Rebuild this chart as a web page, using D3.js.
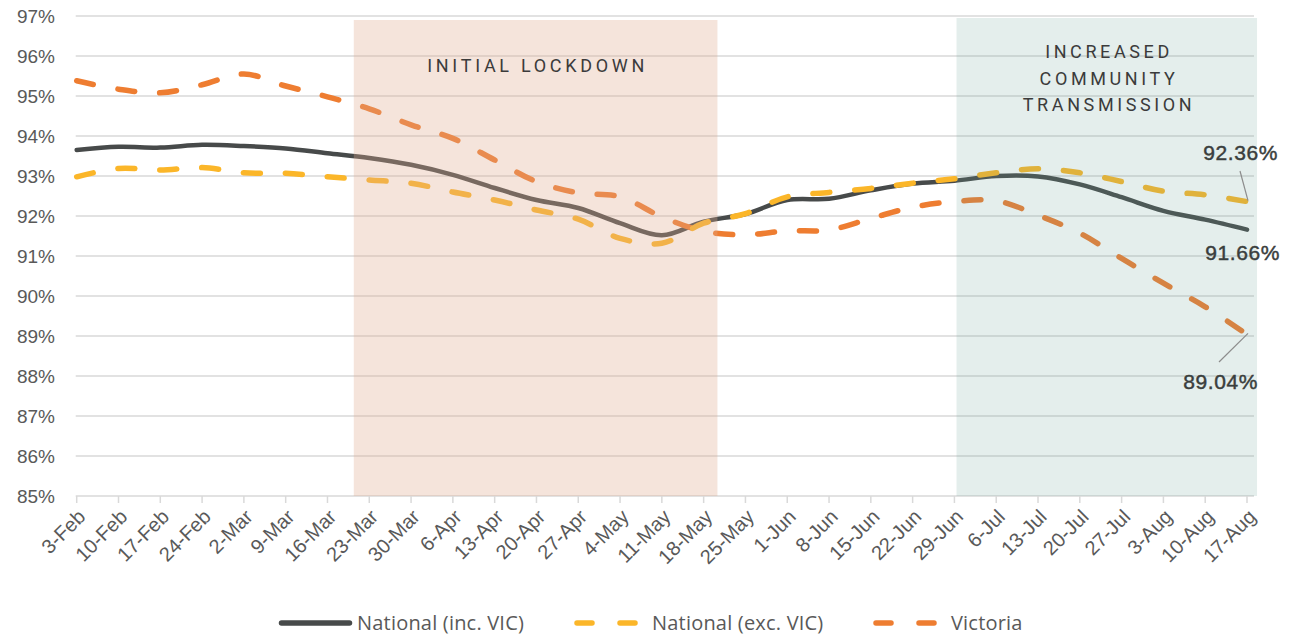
<!DOCTYPE html>
<html>
<head>
<meta charset="utf-8">
<script src="https://cdn.jsdelivr.net/npm/d3@7"></script>
<style>
  html, body { margin: 0; padding: 0; background: #fff; }
  svg { display: block; }
</style>
</head>
<body>
<svg id="chart" width="1292" height="637"></svg>
<script>
// weekly categories
const weeks = ["3-Feb", "10-Feb", "17-Feb", "24-Feb", "2-Mar", "9-Mar", "16-Mar", "23-Mar", "30-Mar",
  "6-Apr", "13-Apr", "20-Apr", "27-Apr", "4-May", "11-May", "18-May", "25-May", "1-Jun", "8-Jun",
  "15-Jun", "22-Jun", "29-Jun", "6-Jul", "13-Jul", "20-Jul", "27-Jul", "3-Aug", "10-Aug", "17-Aug"];

const nationalInc = [93.65, 93.73, 93.71, 93.78, 93.75, 93.69, 93.57, 93.45, 93.28, 93.03, 92.70, 92.40, 92.20,
  91.82, 91.52, 91.86, 92.05, 92.40, 92.43, 92.64, 92.81, 92.88, 93.00, 92.99, 92.79, 92.47, 92.13, 91.91, 91.66];
const nationalExc = [92.98, 93.19, 93.15, 93.21, 93.08, 93.07, 92.98, 92.90, 92.82, 92.60, 92.40, 92.15, 91.92,
  91.44, 91.32, 91.82, 92.06, 92.48, 92.59, 92.69, 92.82, 92.93, 93.08, 93.18, 93.08, 92.86, 92.62, 92.53, 92.36];
const victoria = [95.38, 95.17, 95.08, 95.28, 95.55, 95.25, 94.98, 94.68, 94.28, 93.94, 93.40, 92.86, 92.58,
  92.48, 91.98, 91.62, 91.53, 91.63, 91.65, 91.94, 92.22, 92.36, 92.38, 92.02, 91.57, 90.94, 90.32, 89.73, 89.04];

const yTicks = [85, 86, 87, 88, 89, 90, 91, 92, 93, 94, 95, 96, 97];

// shaded periods, in category index units
const lockdownSpan = [6.63, 15.33];
const communitySpan = [21.05, 28.24];

const svg = d3.select("#chart");
const plotLeft = 76.7, plotRight = 1247, plotTop = 16, plotBottom = 496;

const x = d3.scaleLinear().domain([0, weeks.length - 1]).range([plotLeft, plotRight]);
const y = d3.scaleLinear().domain([85, 97]).range([plotBottom, plotTop]);

const axisFont = "'Liberation Sans', Arial, sans-serif";

// gridlines
svg.append("g")
  .selectAll("line")
  .data(yTicks.slice(1))
  .enter().append("line")
  .attr("x1", plotLeft - 1).attr("x2", 1254)
  .attr("y1", d => y(d)).attr("y2", d => y(d))
  .attr("stroke", "#d9d9d9")
  .attr("stroke-width", 1.5);

// y labels
svg.append("g")
  .selectAll("text")
  .data(yTicks)
  .enter().append("text")
  .attr("x", 55)
  .attr("y", d => y(d) + 7)
  .attr("text-anchor", "end")
  .attr("font-family", axisFont)
  .attr("font-size", 19)
  .attr("fill", "#595959")
  .text(d => d + "%");

// x axis line + ticks
svg.append("line")
  .attr("x1", plotLeft - 1).attr("x2", 1254)
  .attr("y1", plotBottom).attr("y2", plotBottom)
  .attr("stroke", "#d9d9d9").attr("stroke-width", 1.5);

svg.append("g")
  .selectAll("line")
  .data(weeks)
  .enter().append("line")
  .attr("x1", (d, i) => x(i)).attr("x2", (d, i) => x(i))
  .attr("y1", plotBottom).attr("y2", plotBottom + 7)
  .attr("stroke", "#d9d9d9").attr("stroke-width", 1.5);

svg.append("g")
  .selectAll("text")
  .data(weeks)
  .enter().append("text")
  .attr("transform", (d, i) => `translate(${x(i) + 10}, ${plotBottom + 22}) rotate(-45)`)
  .attr("text-anchor", "end")
  .attr("font-family", axisFont)
  .attr("font-size", 20)
  .attr("fill", "#595959")
  .text(d => d);

// lines
const line = d3.line()
  .x((d, i) => x(i))
  .y(d => y(d))
  .curve(d3.curveCatmullRom.alpha(0.5));

const series = [
  { name: "National (inc. VIC)", values: nationalInc, color: "#474a4a", dash: null, width: 4.5 },
  { name: "Victoria", values: victoria, color: "#ee7d31", dash: "17,25", width: 5.5 },
  { name: "National (exc. VIC)", values: nationalExc, color: "#fbb629", dash: "17,25", width: 5.5 }
];

svg.append("g")
  .selectAll("path")
  .data(series)
  .enter().append("path")
  .attr("d", d => line(d.values))
  .attr("fill", "none")
  .attr("stroke", d => d.color)
  .attr("stroke-width", d => d.width)
  .attr("stroke-dasharray", d => d.dash)
  .attr("stroke-linecap", "round")
  .attr("stroke-linejoin", "round");

// shaded periods drawn over the lines (semi-transparent)
svg.append("rect")
  .attr("x", x(lockdownSpan[0]))
  .attr("width", x(lockdownSpan[1]) - x(lockdownSpan[0]))
  .attr("y", 20).attr("height", plotBottom - 20)
  .attr("fill", "rgb(223,170,144)")
  .attr("fill-opacity", 0.32);

svg.append("rect")
  .attr("x", x(communitySpan[0]))
  .attr("width", x(communitySpan[1]) - x(communitySpan[0]))
  .attr("y", 18).attr("height", plotBottom - 18)
  .attr("fill", "rgb(105,161,150)")
  .attr("fill-opacity", 0.18);

const bandFont = "Roboto, 'Liberation Sans', sans-serif";

svg.append("text")
  .attr("x", (x(lockdownSpan[0]) + x(lockdownSpan[1])) / 2 + 2)
  .attr("y", 72)
  .attr("text-anchor", "middle")
  .attr("font-family", bandFont)
  .attr("font-size", 18)
  .attr("letter-spacing", 3.7)
  .attr("fill", "#3b3b3b")
  .text("INITIAL LOCKDOWN");

["INCREASED", "COMMUNITY", "TRANSMISSION"].forEach((t, k) => {
  svg.append("text")
    .attr("x", 1109)
    .attr("y", 58 + k * 26.5)
    .attr("text-anchor", "middle")
    .attr("font-family", bandFont)
    .attr("font-size", 18)
    .attr("letter-spacing", 3.6)
    .attr("fill", "#3b3b3b")
    .text(t);
});

// end labels
const last = weeks.length - 1;
const fmt = v => v.toFixed(2) + "%";
const endLabels = [
  { v: nationalExc[last], tx: 1278, ty: 160, lx1: 1240, ly1: 171 },
  { v: nationalInc[last], tx: 1280, ty: 260, lx1: null },
  { v: victoria[last], tx: 1258, ty: 389, lx1: 1219, ly1: 362 }
];

svg.append("g")
  .selectAll("line")
  .data(endLabels.filter(d => d.lx1 !== null))
  .enter().append("line")
  .attr("x1", d => d.lx1).attr("y1", d => d.ly1)
  .attr("x2", x(last) + 1).attr("y2", d => y(d.v) - 1)
  .attr("stroke", "#8c8c8c").attr("stroke-width", 1.2);

svg.append("g")
  .selectAll("text")
  .data(endLabels)
  .enter().append("text")
  .attr("x", d => d.tx).attr("y", d => d.ty)
  .attr("text-anchor", "end")
  .attr("font-family", axisFont)
  .attr("font-size", 21)
  .attr("letter-spacing", 0.6)
  .attr("fill", "#3a3e3d")
  .attr("stroke", "#3a3e3d")
  .attr("stroke-width", 0.45)
  .text(d => fmt(d.v));

// legend
const legendFont = "'Open Sans', 'Noto Sans', sans-serif";
const legendItems = [
  { name: "National (inc. VIC)", color: "#474a4a", dash: null, x1: 281.5, x2: 349.5, tx: 357 },
  { name: "National (exc. VIC)", color: "#fbb629", dash: "15,28", x1: 577, x2: 635, tx: 652 },
  { name: "Victoria", color: "#ee7d31", dash: "15,28", x1: 876, x2: 934, tx: 951 }
];
const lg = svg.append("g");
legendItems.forEach(it => {
  lg.append("line")
    .attr("x1", it.x1).attr("x2", it.x2)
    .attr("y1", 623).attr("y2", 623)
    .attr("stroke", it.color)
    .attr("stroke-width", 5.5)
    .attr("stroke-linecap", "round")
    .attr("stroke-dasharray", it.dash);
  lg.append("text")
    .attr("x", it.tx).attr("y", 630)
    .attr("font-family", legendFont)
    .attr("font-size", 20)
    .attr("letter-spacing", 0.2)
    .attr("fill", "#595959")
    .text(it.name);
});
</script>
</body>
</html>
